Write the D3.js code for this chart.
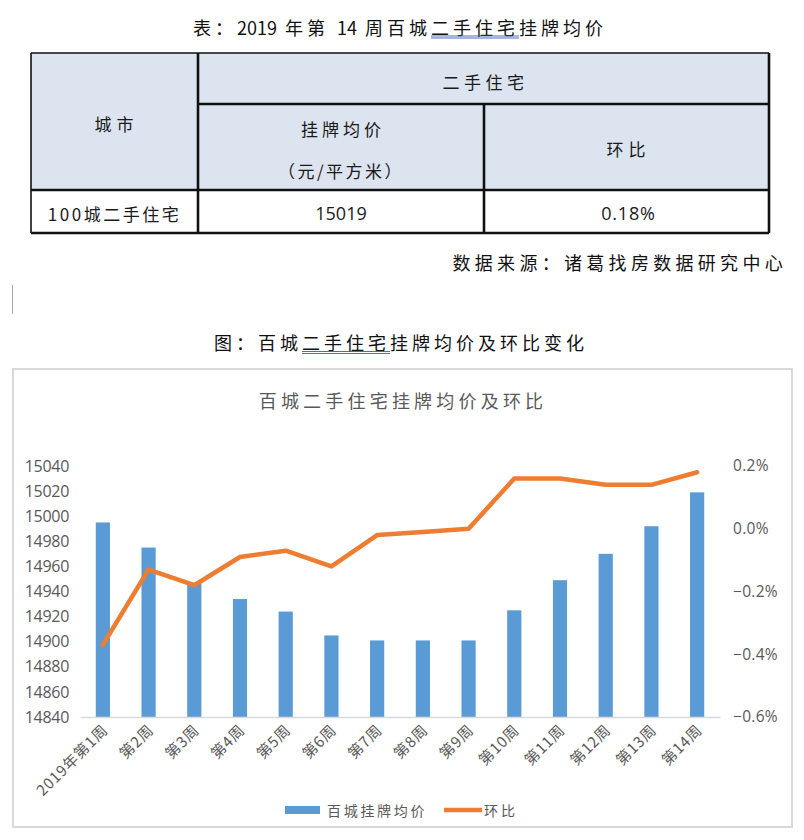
<!DOCTYPE html>
<html><head><meta charset="utf-8">
<script src="https://cdn.jsdelivr.net/npm/d3@7"></script>
<style>
body{margin:0;background:#fff;}
svg{display:block;}
</style></head>
<body>
<svg id="c" width="804" height="840"></svg>
<script>
// ---- data ----
const tableTitleParts = ["表：", "2019", " 年第 ", "14", " 周百城二手住宅挂牌均价"];
const tableGroupHeader = "二手住宅";
const tableColHeaders = ["城市", "挂牌均价", "环比"];
const tableUnit = "（元/平方米）";
const tableRow = ["100城二手住宅", "15019", "0.18%"];
const sourceText = "数据来源：诸葛找房数据研究中心";
const figCaption = "图：百城二手住宅挂牌均价及环比变化";
const chartTitle = "百城二手住宅挂牌均价及环比";
const weeks = ["2019年第1周","第2周","第3周","第4周","第5周","第6周","第7周","第8周","第9周","第10周","第11周","第12周","第13周","第14周"];
const price = [14995,14975,14947,14934,14924,14905,14901,14901,14901,14925,14949,14970,14992,15019];
const hb = [-0.37,-0.13,-0.18,-0.09,-0.07,-0.12,-0.02,-0.01,0.00,0.16,0.16,0.14,0.14,0.18];
const leftTicks = [14840,14860,14880,14900,14920,14940,14960,14980,15000,15020,15040];
const rightTicks = [-0.6,-0.4,-0.2,0.0,0.2];
const seriesNames = ["百城挂牌均价", "环比"];

const CJK = "'Noto Sans CJK SC', 'Noto Sans', sans-serif";
const NUM = "'Open Sans', 'Noto Sans', sans-serif";
const svg = d3.select("#c");

// helper: draw double underline under substring
function dblUnderline(textSel, sub, y) {
  const node = textSel.node();
  const s = node.textContent;
  const i = s.indexOf(sub);
  const x0 = node.getStartPositionOfChar(i).x;
  const x1 = node.getEndPositionOfChar(i + sub.length - 1).x;
  [0, 2].forEach(d => svg.append("line").attr("x1", x0).attr("x2", x1)
    .attr("y1", y + d).attr("y2", y + d).attr("stroke", "#3b5ea8").attr("stroke-width", 0.9));
}

// ---- table title ----
const tt = svg.append("text").attr("x", 400).attr("y", 27).attr("text-anchor", "middle")
  .attr("dominant-baseline", "central").attr("font-family", CJK).attr("font-size", 18)
  .attr("fill", "#111");
tt.selectAll("tspan").data(tableTitleParts).join("tspan")
  .attr("letter-spacing", d => /^\d+$/.test(d) ? 0 : 4)
  .text(d => d);
dblUnderline(tt, "二手住宅", 36);

// ---- table ----
const tx = d3.scaleOrdinal().domain(["L","c1","c2","R"]).range([31, 198, 484, 769]);
const ty = {top: 53, sub: 104, head: 190, bottom: 233};
const headFill = "#dce4ef";
svg.append("rect").attr("x", tx("L")).attr("y", ty.top).attr("width", tx("R") - tx("L"))
  .attr("height", ty.head - ty.top).attr("fill", headFill);
const tline = (x1, y1, x2, y2, w) => svg.append("line").attr("x1", x1).attr("y1", y1)
  .attr("x2", x2).attr("y2", y2).attr("stroke", "#111").attr("stroke-width", w);
tline(tx("L"), ty.top, tx("R"), ty.top, 1.6);
tline(tx("c1"), ty.sub, tx("R"), ty.sub, 2.6);
tline(tx("L"), ty.head, tx("R"), ty.head, 2.6);
tline(tx("L"), ty.bottom, tx("R"), ty.bottom, 2.6);
tline(tx("L"), ty.top, tx("L"), ty.bottom, 1.6);
tline(tx("c1"), ty.top, tx("c1"), ty.bottom, 2.6);
tline(tx("c2"), ty.sub, tx("c2"), ty.bottom, 2.6);
tline(tx("R"), ty.top, tx("R"), ty.bottom, 2.6);

const cell = (x, y, t, font, size, ls) => svg.append("text").attr("x", x).attr("y", y)
  .attr("text-anchor", "middle").attr("dominant-baseline", "central")
  .attr("font-family", font).attr("font-size", size).attr("letter-spacing", ls || 0)
  .attr("fill", "#1a1a1a").text(t);
const mid = (a, b) => (tx(a) + tx(b)) / 2;
cell(mid("c1", "R") + 2, 81, tableGroupHeader, CJK, 17, 4.5);
cell(mid("L", "c1") + 2, 123, tableColHeaders[0], CJK, 17, 5);
cell(mid("c1", "c2") + 2, 128, tableColHeaders[1], CJK, 17, 4);
cell(mid("c1", "c2"), 170, tableUnit, CJK, 17, 2.5);
cell(mid("c2", "R") + 2, 148, tableColHeaders[2], CJK, 17, 5);
cell(mid("L", "c1"), 213, tableRow[0], CJK, 17, 2.5);
cell(mid("c1", "c2"), 213, tableRow[1], NUM, 18, 0);
cell(mid("c2", "R") + 2, 213, tableRow[2], NUM, 18, 0.8);

svg.append("text").attr("x", 787).attr("y", 262).attr("text-anchor", "end")
  .attr("dominant-baseline", "central").attr("font-family", CJK).attr("font-size", 18)
  .attr("letter-spacing", 4.3).attr("fill", "#111").text(sourceText);

svg.append("line").attr("x1", 12.5).attr("x2", 12.5).attr("y1", 285).attr("y2", 314)
  .attr("stroke", "#aaa").attr("stroke-width", 1);

// ---- figure caption ----
const fc = svg.append("text").attr("x", 401).attr("y", 342).attr("text-anchor", "middle")
  .attr("dominant-baseline", "central").attr("font-family", CJK).attr("font-size", 18)
  .attr("letter-spacing", 4).attr("fill", "#111").text(figCaption);
dblUnderline(fc, "二手住宅", 351.5);

// ---- chart frame ----
svg.append("rect").attr("x", 13).attr("y", 369).attr("width", 779).attr("height", 458)
  .attr("fill", "#fff").attr("stroke", "#d9d9d9").attr("stroke-width", 2);
svg.append("text").attr("x", 403).attr("y", 400).attr("text-anchor", "middle")
  .attr("dominant-baseline", "central").attr("font-family", CJK).attr("font-size", 18)
  .attr("letter-spacing", 4.2).attr("fill", "#595959").text(chartTitle);

// ---- scales ----
const x = d3.scaleBand().domain(weeks).range([80, 720]).paddingInner(0.69).paddingOuter(0.345);
const yL = d3.scaleLinear().domain([14840, 15040]).range([717, 466]);
const yR = d3.scaleLinear().domain([-0.6, 0.2]).range([717, 466]);
const cx = d => x(d) + x.bandwidth() / 2;

// bars
svg.append("g").selectAll("rect").data(weeks).join("rect")
  .attr("x", d => x(d)).attr("width", x.bandwidth())
  .attr("y", (d, i) => yL(price[i])).attr("height", (d, i) => yL.range()[0] - yL(price[i]))
  .attr("fill", "#5b9bd5");

// left axis
const gL = svg.append("g").attr("transform", "translate(69,0)")
  .call(d3.axisLeft(yL).tickValues(leftTicks).tickSize(0).tickPadding(0).tickFormat(d3.format("d")));
gL.select(".domain").remove();
gL.selectAll("text").attr("font-family", NUM).attr("font-size", 16).attr("fill", "#595959")
  .attr("letter-spacing", -0.3);

// right axis
const gR = svg.append("g").attr("transform", "translate(733,0)")
  .call(d3.axisRight(yR).tickValues(rightTicks).tickSize(0).tickPadding(0)
    .tickFormat(d => d3.format(".1f")(d) + "%"));
gR.select(".domain").remove();
gR.selectAll("text").attr("font-family", NUM).attr("font-size", 15.5).attr("fill", "#595959")
  .attr("letter-spacing", 0.3);

// bottom axis
const gB = svg.append("g").attr("transform", "translate(0,717)")
  .call(d3.axisBottom(x).tickSize(0).tickPadding(0));
gB.select(".domain").attr("stroke", "#d9d9d9").attr("stroke-width", 1.5);
gB.selectAll("text").attr("font-family", CJK).attr("font-size", 15).attr("fill", "#595959")
  .attr("letter-spacing", 0.8)
  .attr("text-anchor", "end").attr("dy", 0)
  .attr("transform", "translate(6,14) rotate(-45)");

// line
const line = d3.line().x((d, i) => cx(weeks[i])).y(d => yR(d));
svg.append("path").datum(hb).attr("d", line).attr("fill", "none")
  .attr("stroke", "#ed7d31").attr("stroke-width", 4.5).attr("stroke-linejoin", "round")
  .attr("stroke-linecap", "round");

// legend
const lg = svg.append("g");
lg.append("rect").attr("x", 285).attr("y", 806).attr("width", 35).attr("height", 8).attr("fill", "#5b9bd5");
lg.append("text").attr("x", 327).attr("y", 810).attr("dominant-baseline", "central")
  .attr("font-family", CJK).attr("font-size", 14).attr("letter-spacing", 2.7)
  .attr("fill", "#595959").text(seriesNames[0]);
lg.append("line").attr("x1", 444).attr("x2", 482).attr("y1", 810).attr("y2", 810)
  .attr("stroke", "#ed7d31").attr("stroke-width", 4.5);
lg.append("text").attr("x", 484).attr("y", 810).attr("dominant-baseline", "central")
  .attr("font-family", CJK).attr("font-size", 14).attr("letter-spacing", 3)
  .attr("fill", "#595959").text(seriesNames[1]);
</script>
</body></html>
